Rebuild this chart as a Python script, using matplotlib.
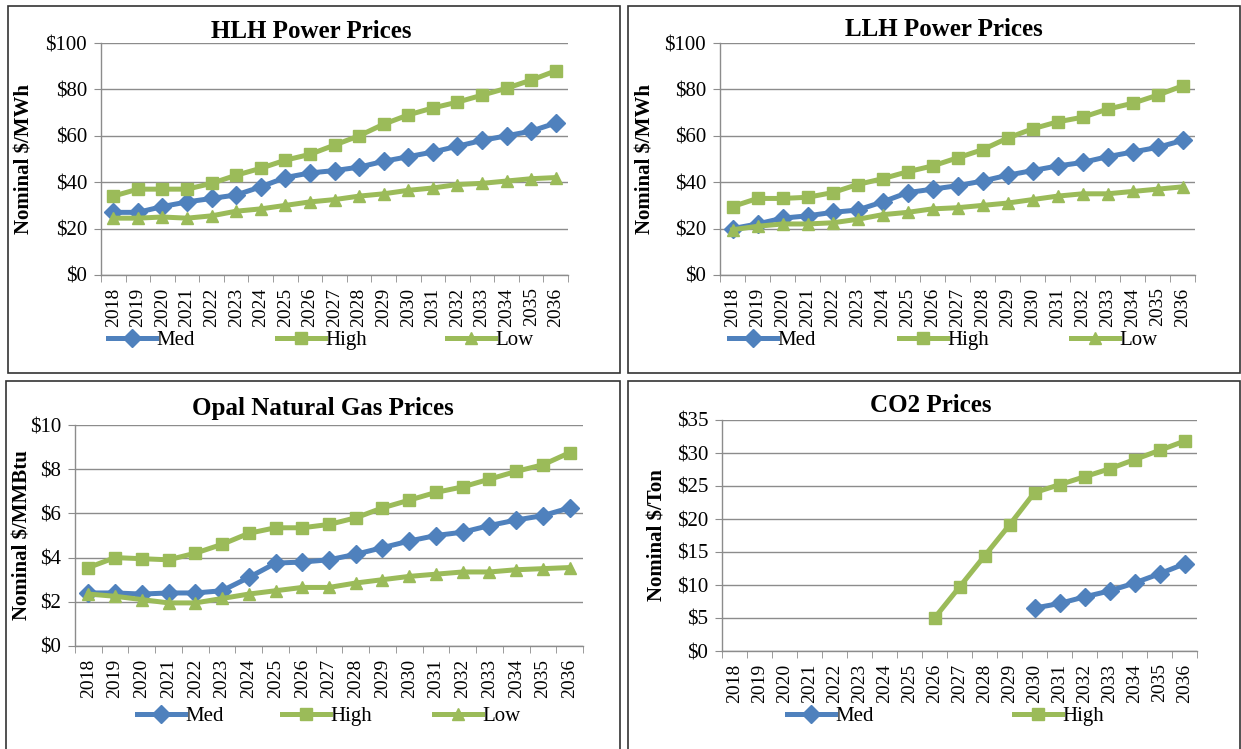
"""Four-panel price forecast chart (HLH, LLH, natural gas, CO2)."""

import numpy as np
import matplotlib
matplotlib.use("Agg")
import matplotlib.pyplot as plt
from matplotlib.patches import Rectangle

plt.rcParams["font.family"] = ["Liberation Serif", "DejaVu Serif"]

years = [str(y) for y in range(2018, 2037)]

hlh_med = [27, 27, 29.5, 31.5, 33, 34.5, 38, 42, 44, 45, 46.5, 49, 51, 53, 55.5, 58, 60, 62, 65.5]
hlh_high = [34, 37, 37, 37, 39.5, 43, 46, 49.5, 52, 56, 60, 65, 69, 72, 74.5, 77.5, 80.5, 84, 88]
hlh_low = [24.5, 24.5, 25, 24.5, 25.5, 27.5, 28.5, 30, 31.5, 32.5, 34, 35, 36.5, 37.5, 39, 39.5, 40.5, 41.5, 42]

llh_med = [20, 22, 24.5, 25.5, 27, 28, 31.5, 35.5, 37, 38.5, 40.5, 43, 45, 47, 48.5, 51, 53, 55, 58]
llh_high = [29.5, 33, 33, 33.5, 35.5, 39, 41.5, 44.5, 47, 50.5, 54, 59, 63, 66, 68, 71.5, 74, 77.5, 81.5]
llh_low = [19.5, 21, 22, 22, 22.5, 24, 26, 27, 28.5, 29, 30, 31, 32.5, 34, 35, 35, 36, 37, 38]

gas_med = [2.4, 2.4, 2.35, 2.4, 2.4, 2.5, 3.1, 3.75, 3.8, 3.9, 4.15, 4.45, 4.75, 5.0, 5.15, 5.45, 5.7, 5.9, 6.25]
gas_high = [3.55, 4.0, 3.95, 3.9, 4.2, 4.6, 5.1, 5.35, 5.35, 5.5, 5.8, 6.25, 6.6, 6.95, 7.2, 7.55, 7.9, 8.2, 8.75]
gas_low = [2.35, 2.25, 2.1, 1.95, 1.95, 2.15, 2.35, 2.5, 2.65, 2.65, 2.85, 3.0, 3.15, 3.25, 3.35, 3.35, 3.45, 3.5, 3.55]

# CO2 series start late; missing years are NaN
co2_med = [np.nan] * 12 + [6.5, 7.2, 8.2, 9.1, 10.3, 11.7, 13.2]
co2_high = [np.nan] * 8 + [5.0, 9.7, 14.4, 19.1, 24.0, 25.2, 26.4, 27.6, 29.0, 30.4, 31.8]

BLUE = "#4F81BD"
GREEN = "#9BBB59"
GRID = "#8c8c8c"

W, H = 1241, 749
fig = plt.figure(figsize=(W / 100, H / 100), dpi=100)


def px_axes(left, top, right, bottom):
    return fig.add_axes([left / W, 1 - bottom / H, (right - left) / W, (bottom - top) / H])


def box(left, top, right, bottom):
    fig.patches.append(Rectangle((left / W, 1 - bottom / H), (right - left) / W, (bottom - top) / H,
                                 transform=fig.transFigure, fill=False, edgecolor="#333333",
                                 linewidth=1.2))


def panel(rect, title, title_xy, ylabel, ylabel_x, series, ymax, ystep, legend_x, legend_y):
    ax = px_axes(*rect)
    x = np.arange(len(years))
    styles = {"Med": (BLUE, "D"), "High": (GREEN, "s"), "Low": (GREEN, "^")}
    handles = []
    for name, vals in series:
        color, marker = styles[name]
        (h,) = ax.plot(x, vals, color=color, lw=3.6, marker=marker, ms=9,
                       markeredgecolor=color, label=name, zorder=3)
        handles.append(h)
    ax.set_xlim(-0.5, len(years) - 0.5)
    ax.set_ylim(0, ymax)
    yt = np.arange(0, ymax + ystep / 2, ystep)
    ax.set_yticks(yt)
    ax.set_yticklabels([f"${v:g}" for v in yt], fontsize=15)
    ax.set_xticks(x)
    ax.set_xticklabels(years, rotation=90, fontsize=14)
    ax.set_xticks(np.arange(-0.5, len(years)), minor=True)
    ax.tick_params(axis="x", which="major", length=0, pad=9)
    ax.tick_params(axis="x", which="minor", length=5, color=GRID)
    ax.tick_params(axis="y", length=5, color=GRID, pad=5)
    ax.grid(axis="y", color=GRID, lw=1.0)
    ax.set_axisbelow(True)
    for s in ("top", "right"):
        ax.spines[s].set_visible(False)
    for s in ("left", "bottom"):
        ax.spines[s].set_color(GRID)
        ax.spines[s].set_linewidth(1.0)
    fig.text(title_xy[0] / W, 1 - title_xy[1] / H, title, fontsize=18,
             fontweight="bold", ha="center", va="center")
    cy = (rect[1] + rect[3]) / 2
    fig.text(ylabel_x / W, 1 - cy / H, ylabel, fontsize=15, fontweight="bold",
             rotation=90, ha="center", va="center")
    # legend entries placed individually under the axis
    for h, lx in zip(handles, legend_x):
        fig.legend([h], [h.get_label()], loc="center left",
                   bbox_to_anchor=(lx / W, 1 - legend_y / H),
                   frameon=False, fontsize=15, handlelength=2.3,
                   handletextpad=0.0, borderaxespad=0, borderpad=0)
    return ax


box(8, 6, 620, 373)
box(628, 6, 1240, 373)
box(6, 381, 620, 752)
box(628, 381, 1240, 752)

panel((101, 43, 568, 275), "HLH Power Prices", (311, 31), "Nominal $/MWh", 25,
      [("Med", hlh_med), ("High", hlh_high), ("Low", hlh_low)], 100, 20,
      [108, 277, 447], 340)
panel((720, 43, 1195, 275), "LLH Power Prices", (944, 29), "Nominal $/MWh", 645,
      [("Med", llh_med), ("High", llh_high), ("Low", llh_low)], 100, 20,
      [729, 899, 1071], 340)
panel((75, 425, 583, 646), "Opal Natural Gas Prices", (323, 409), "Nominal $/MMBtu", 23,
      [("Med", gas_med), ("High", gas_high), ("Low", gas_low)], 10, 2,
      [137, 282, 434], 716)
panel((722, 420, 1197, 651), "CO2 Prices", (931, 405), "Nominal $/Ton", 657,
      [("Med", co2_med), ("High", co2_high)], 35, 5,
      [787, 1014], 716)

fig.savefig("out.png", dpi=100)
